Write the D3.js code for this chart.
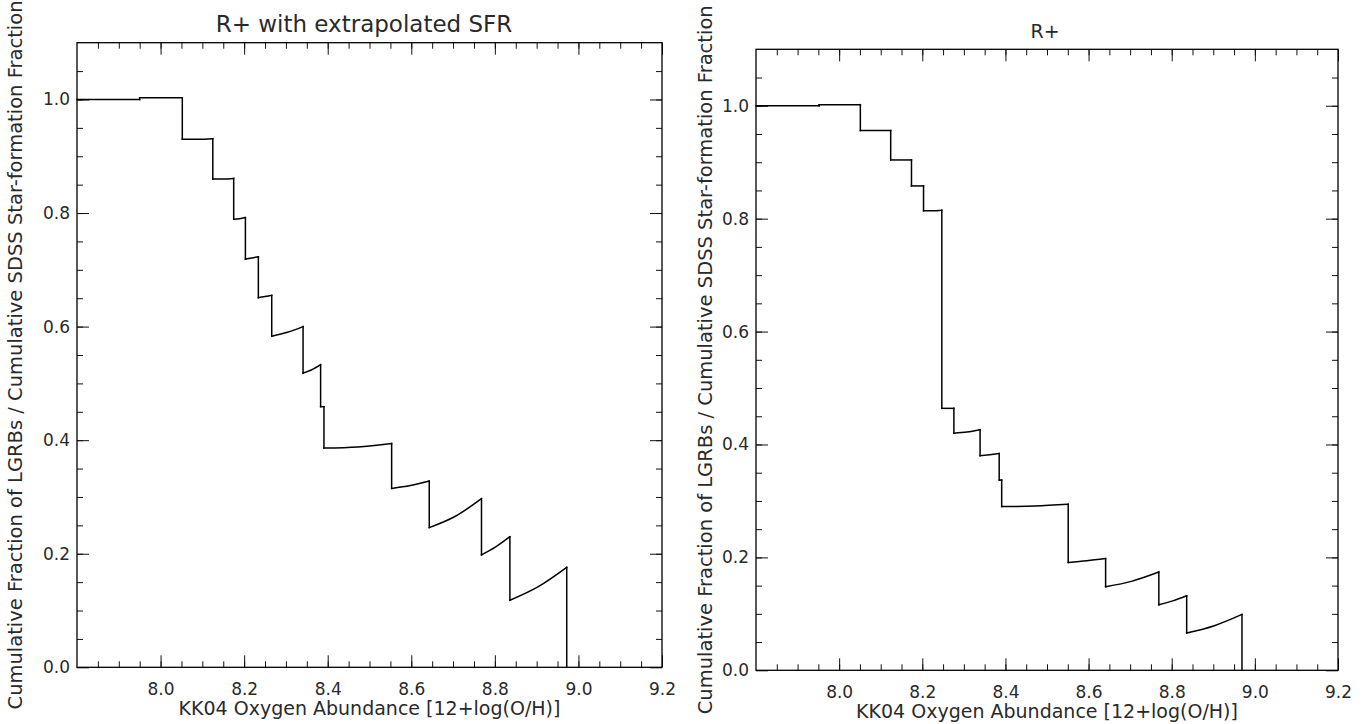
<!DOCTYPE html>
<html>
<head>
<meta charset="utf-8">
<script src="https://cdn.jsdelivr.net/npm/d3@7"></script>
<style>
body { margin: 0; background: #fff; }
</style>
</head>
<body>
<script>
// axis ticks shared by both panels
var xTickValues = [8.0, 8.2, 8.4, 8.6, 8.8, 9.0, 9.2];
var yTickValues = [0.0, 0.2, 0.4, 0.6, 0.8, 1.0];
var xMinorTicks = d3.range(1, 28).map(i => 7.8 + i * 0.05);
var yMinorTicks = d3.range(1, 22).map(i => i * 0.05);

// left panel: "R+ with extrapolated SFR"
// each segment runs from breaks[i] to breaks[i+1], start / middle / end values
var leftBreaks = [7.80, 7.95, 8.052, 8.125, 8.175, 8.203, 8.234, 8.266, 8.341, 8.383, 8.391, 8.553, 8.643, 8.768, 8.836, 8.972];
var leftStart  = [1.000, 1.003, 0.930, 0.860, 0.789, 0.719, 0.651, 0.583, 0.518, 0.459, 0.386, 0.315, 0.246, 0.198, 0.118];
var leftMid    = [1.000, 1.003, 0.930, 0.860, 0.790, 0.721, 0.653, 0.590, 0.524, 0.459, 0.388, 0.320, 0.266, 0.212, 0.142];
var leftEnd    = [1.000, 1.003, 0.931, 0.861, 0.792, 0.723, 0.655, 0.600, 0.533, 0.459, 0.394, 0.328, 0.297, 0.230, 0.176];

// right panel: "R+"
var rightBreaks = [7.80, 7.952, 8.051, 8.124, 8.174, 8.203, 8.247, 8.276, 8.339, 8.385, 8.391, 8.551, 8.641, 8.769, 8.836, 8.969];
var rightStart  = [1.000, 1.002, 0.956, 0.904, 0.858, 0.814, 0.464, 0.420, 0.380, 0.337, 0.290, 0.191, 0.148, 0.116, 0.066];
var rightMid    = [1.000, 1.002, 0.956, 0.904, 0.858, 0.814, 0.464, 0.422, 0.382, 0.337, 0.291, 0.194, 0.158, 0.123, 0.079];
var rightEnd    = [1.000, 1.002, 0.956, 0.904, 0.858, 0.815, 0.464, 0.426, 0.384, 0.337, 0.294, 0.198, 0.174, 0.132, 0.099];

var xLabel = "KK04 Oxygen Abundance [12+log(O/H)]";
var yLabel = "Cumulative Fraction of LGRBs / Cumulative SDSS Star-formation Fraction";

var fontFam = "'DejaVu Sans', sans-serif";

var svg = d3.select("body").append("svg")
    .attr("width", 1366)
    .attr("height", 724);

function drawPanel(cfg) {
    var width = cfg.x1 - cfg.x0;
    var height = cfg.y1 - cfg.y0;

    var x = d3.scaleLinear().domain([7.8, 9.2]).range([0, width]);
    var y = d3.scaleLinear().domain([0, 1.1]).range([height, 0]);

    var g = svg.append("g")
        .attr("transform", "translate(" + cfg.x0 + "," + cfg.y0 + ")");

    // major + minor ticks on all four sides, pointing inward
    function styleAxis(sel) {
        sel.select(".domain").remove();
        sel.attr("color", "#111")
            .attr("font-size", 17)
            .attr("font-family", fontFam);
        sel.selectAll("line").attr("stroke-width", 1);
        sel.selectAll("text").attr("fill", "#2a2a2a");
    }

    g.append("g")
        .attr("transform", "translate(0," + height + ")")
        .call(d3.axisBottom(x).tickValues(xTickValues).tickSize(-12).tickPadding(16).tickFormat(d3.format(".1f")))
        .call(styleAxis);
    g.append("g")
        .attr("transform", "translate(0," + height + ")")
        .call(d3.axisBottom(x).tickValues(xMinorTicks).tickSize(-6).tickFormat(""))
        .call(styleAxis);
    g.append("g")
        .call(d3.axisTop(x).tickValues(xTickValues).tickSize(-12).tickFormat(""))
        .call(styleAxis);
    g.append("g")
        .call(d3.axisTop(x).tickValues(xMinorTicks).tickSize(-6).tickFormat(""))
        .call(styleAxis);

    g.append("g")
        .call(d3.axisLeft(y).tickValues(yTickValues).tickSize(-12).tickPadding(7).tickFormat(d3.format(".1f")))
        .call(styleAxis);
    g.append("g")
        .call(d3.axisLeft(y).tickValues(yMinorTicks).tickSize(-6).tickFormat(""))
        .call(styleAxis);
    g.append("g")
        .attr("transform", "translate(" + width + ",0)")
        .call(d3.axisRight(y).tickValues(yTickValues).tickSize(-12).tickFormat(""))
        .call(styleAxis);
    g.append("g")
        .attr("transform", "translate(" + width + ",0)")
        .call(d3.axisRight(y).tickValues(yMinorTicks).tickSize(-6).tickFormat(""))
        .call(styleAxis);

    // plot box
    g.append("rect")
        .attr("width", width)
        .attr("height", height)
        .attr("fill", "none")
        .attr("stroke", "#000")
        .attr("stroke-width", 1.3);

    // cumulative curve: curved segments + vertical jumps
    var br = cfg.breaks;
    var segs = cfg.start.map(function (s, i) {
        return [[br[i], s], [(br[i] + br[i + 1]) / 2, cfg.mid[i]], [br[i + 1], cfg.end[i]]];
    });
    var jumps = cfg.start.map(function (s, i) {
        var next = i + 1 < cfg.start.length ? cfg.start[i + 1] : 0;
        return [[br[i + 1], cfg.end[i]], [br[i + 1], next]];
    });

    var curveLine = d3.line()
        .x(d => x(d[0]))
        .y(d => y(d[1]))
        .curve(d3.curveMonotoneX);
    var straight = d3.line()
        .x(d => x(d[0]))
        .y(d => y(d[1]));

    var lines = g.append("g").attr("class", "curve")
        .attr("fill", "none")
        .attr("stroke", "#000")
        .attr("stroke-width", 1.5)
        .attr("stroke-linecap", "square");
    lines.selectAll("path.seg")
        .data(segs)
        .enter().append("path")
        .attr("class", "seg")
        .attr("d", curveLine);
    lines.selectAll("path.jump")
        .data(jumps)
        .enter().append("path")
        .attr("class", "jump")
        .attr("d", straight);

    // titles
    svg.append("text")
        .attr("x", cfg.titleX)
        .attr("y", cfg.titleY)
        .attr("text-anchor", "middle")
        .attr("font-family", fontFam)
        .attr("font-size", cfg.titleSize)
        .attr("fill", "#2a2a2a")
        .text(cfg.title);

    svg.append("text")
        .attr("x", cfg.x0 + width / 2)
        .attr("y", cfg.y1 + 48)
        .attr("text-anchor", "middle")
        .attr("font-family", fontFam)
        .attr("font-size", 19)
        .attr("fill", "#2a2a2a")
        .text(xLabel);

    svg.append("text")
        .attr("text-anchor", "middle")
        .attr("transform", "translate(" + cfg.yTitleX + "," + (cfg.y0 + height / 2) + "),rotate(-90)")
        .attr("font-family", fontFam)
        .attr("font-size", 19.5)
        .attr("fill", "#2a2a2a")
        .text(yLabel);
}

drawPanel({
    x0: 77, x1: 662, y0: 42.7, y1: 667.3,
    title: "R+ with extrapolated SFR", titleX: 364, titleY: 31.5, titleSize: 23,
    yTitleX: 22,
    breaks: leftBreaks, start: leftStart, mid: leftMid, end: leftEnd
});

drawPanel({
    x0: 756, x1: 1338, y0: 49.3, y1: 670.3,
    title: "R+", titleX: 1045, titleY: 38, titleSize: 19,
    yTitleX: 712,
    breaks: rightBreaks, start: rightStart, mid: rightMid, end: rightEnd
});
</script>
</body>
</html>
